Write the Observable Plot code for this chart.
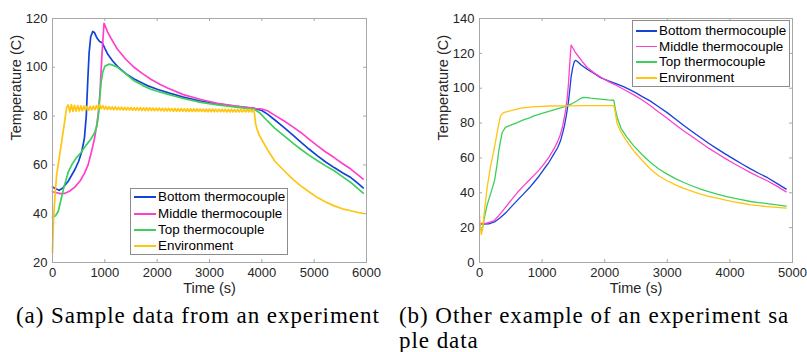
<!DOCTYPE html>
<html>
<head>
<meta charset="utf-8">
<script src="https://cdn.jsdelivr.net/npm/d3@7"></script>
<script src="https://cdn.jsdelivr.net/npm/@observablehq/plot@0.6"></script>
<style>
  html, body { margin: 0; padding: 0; background: #fff; }
  body { width: 807px; height: 352px; position: relative; overflow: hidden; }
  .panel { position: absolute; top: 0; }
  .legend { position: absolute; background: #fff; border: 1px solid #8c8c8c; box-sizing: border-box;
            font-family: "Liberation Sans", Arial, sans-serif; font-size: 13.4px; color: #000; }
  .legend .row { position: absolute; left: 0; height: 16px; line-height: 16px; white-space: nowrap; }
  .legend .sw { position: absolute; top: 7px; height: 2px; }
  .legend .lb { position: absolute; top: 0; }
  .cap { position: absolute; font-family: "Liberation Serif", "Times New Roman", serif; font-size: 23px;
         letter-spacing: 0.95px; line-height: 23px; white-space: nowrap; color: #000; }
</style>
</head>
<body>
<div id="pa" class="panel" style="left:0;"></div>
<div id="pb" class="panel" style="left:400px;"></div>
<div id="la" class="legend" style="left:130px; top:188px; width:158px; height:67px;"></div>
<div id="lb" class="legend" style="left:632px; top:20px; width:158px; height:67px;"></div>
<div class="cap" style="left:16px; top:304px;">(a) Sample data from an experiment</div>
<div class="cap" style="left:399px; top:304px;">(b) Other example of an experiment sa</div>
<div class="cap" style="left:399px; top:329px;">ple data</div>
<script>
// ---------- shared ----------
const seriesNames = ["Bottom thermocouple", "Middle thermocouple", "Top thermocouple", "Environment"];
const seriesColors = ["#1442d6", "#ff40cc", "#3ecf5a", "#ffc510"];
const axisLabelX = "Time (s)";
const axisLabelY = "Temperature (C)";

// ---------- panel (a) ----------
const aXTicks = [0, 1000, 2000, 3000, 4000, 5000, 6000];
const aYTicks = [20, 40, 60, 80, 100, 120];
const aBottom = [[0,51],[60,50.2],[130,49.6],[200,50.6],[300,53.3],[420,57.8],[500,61.5],[560,65.5],[610,71],[645,80],[675,95],[700,106],[730,112.5],[770,114.7],[800,114.3],[850,112],[900,110.6],[950,110.1],[1000,107.8],[1060,105.2],[1150,102.6],[1250,100.2],[1400,97.4],[1560,95.2],[1800,92.6],[2000,91],[2250,89.3],[2500,87.8],[2800,86.3],[3150,85],[3500,84],[3850,83.2],[4000,82.3],[4108,80.8],[4250,78.4],[4427,75.3],[4600,72.1],[4745,69.3],[4900,66.5],[5064,63.7],[5220,61.2],[5382,58.9],[5540,56.8],[5700,54.8],[5820,52.7],[5936,50.6]];
const aMiddle = [[0,49],[80,48.6],[150,48.2],[230,48.3],[330,49.3],[430,51],[530,53.5],[610,56.5],[680,60],[740,65],[800,70.5],[850,77],[880,82],[905,89],[925,97],[945,105],[965,112],[985,118],[1000,117.3],[1050,114.6],[1115,112],[1180,109.6],[1242,107.4],[1400,103.3],[1560,100],[1720,97.4],[1879,95.1],[2050,93.1],[2197,91.5],[2500,88.8],[2834,86.8],[3150,85.2],[3471,84.2],[3700,83.6],[3854,83.2],[4000,82.9],[4108,82.2],[4250,80.3],[4427,78],[4600,75.5],[4745,73.3],[4900,70.6],[5064,67.8],[5220,65.3],[5382,63],[5540,60.6],[5700,58.3],[5820,56.2],[5936,54.2]];
const aTop = [[0,38.6],[60,39.2],[110,41],[160,45.5],[220,51],[300,57],[380,60.5],[460,63],[541,65],[640,68],[732,70.5],[800,73],[850,76],[880,81],[905,88],[930,94],[960,98],[1000,100.4],[1083,101.3],[1150,100.9],[1242,100],[1400,97.3],[1560,94.5],[1720,92.6],[1879,91],[2050,89.9],[2197,89],[2500,87.2],[2834,85.6],[3150,84.6],[3471,83.8],[3700,83.2],[3854,82.8],[3950,81.5],[4108,78],[4250,75],[4427,71.9],[4600,68.8],[4745,66.4],[4900,64],[5064,61.7],[5220,59.6],[5382,57.6],[5540,55.2],[5700,52.8],[5820,50.6],[5936,48.4]];
const aEnv = [[0,24],[20,38],[50,48],[80,56],[150,66],[220,76],[270,83.5],
  [300,84.6],[330,81.6],[360,84.7],[390,81.9],[420,84.4],[450,82.0],[480,84.3],[510,82.1],[540,84.2],[570,82.2],
  [600,84.1],[630,82.3],[660,84.0],[690,82.4],[720,84.0],[750,82.5],[780,84.1],[810,82.6],[840,84.3],[870,82.9],
  [900,84.7],[930,83.0],[960,84.3],[990,82.8],[1020,84.0],[1050,82.7],[1080,83.9],[1110,82.7],[1140,83.8],[1170,82.6],
  [1200,83.8],[1230,82.6],[1260,83.7],[1290,82.6],[1320,83.7],[1350,82.5],[1380,83.6],[1410,82.5],[1440,83.6],[1470,82.5],
  [1500,83.6],[1530,82.4],[1560,83.5],[1590,82.4],[1620,83.5],[1650,82.4],[1680,83.5],[1710,82.3],[1740,83.4],[1770,82.3],
  [1800,83.4],[1830,82.3],[1860,83.4],[1890,82.3],[1920,83.3],[1950,82.2],[1980,83.3],[2010,82.2],[2040,83.3],[2070,82.2],
  [2100,83.2],[2130,82.1],[2160,83.2],[2190,82.1],[2220,83.2],[2250,82.1],[2280,83.1],[2310,82.0],[2340,83.1],[2370,82.0],
  [2400,83.1],[2430,82.0],[2460,83.1],[2490,82.0],[2520,83.0],[2550,81.9],[2580,83.0],[2610,81.9],[2640,83.0],[2670,81.9],
  [2700,83.0],[2730,81.9],[2760,83.0],[2790,81.9],[2820,82.9],[2850,81.9],[2880,82.9],[2910,81.8],[2940,82.9],[2970,81.8],
  [3000,82.9],[3030,81.8],[3060,82.9],[3090,81.8],[3120,82.8],[3150,81.8],[3180,82.8],[3210,81.8],[3240,82.8],[3270,81.8],
  [3300,82.8],[3330,81.7],[3360,82.8],[3390,81.7],[3420,82.8],[3450,81.7],[3480,82.7],[3510,81.7],[3540,82.7],[3570,81.7],
  [3600,82.7],[3630,81.7],[3660,82.7],[3690,81.7],[3720,82.7],[3750,81.7],[3780,82.7],[3810,81.7],[3840,82.6],
  [3860,81],[3880,77],[3910,74.5],[3950,72.2],[4000,70.3],[4108,66.2],[4250,61.5],[4427,57.6],[4600,54],[4745,51.4],
  [4900,49],[5064,46.6],[5220,44.8],[5382,43.2],[5540,42],[5700,41.2],[5820,40.6],[5936,40.1]];

// ---------- panel (b) ----------
const bXTicks = [0, 1000, 2000, 3000, 4000, 5000];
const bYTicks = [0, 20, 40, 60, 80, 100, 120, 140];
const bBottom = [[0,22.2],[60,22.1],[150,22.2],[250,23.5],[335,25.8],[420,28.5],[495,31.5],[600,35.5],[708,39.5],[800,43],[868,45.9],[950,49.5],[1028,53.5],[1110,57.5],[1187,62.2],[1250,66],[1294,69.8],[1330,74.5],[1360,79],[1390,85],[1420,92],[1445,100],[1465,107],[1490,112],[1515,115.3],[1534,116],[1560,115.5],[1620,113.5],[1720,110.9],[1830,108.4],[1933,106.1],[2060,104.2],[2199,102.3],[2300,100.9],[2400,99.2],[2500,97.3],[2600,95.2],[2732,92.6],[2860,89.4],[2998,86],[3130,82.3],[3264,78.6],[3400,75],[3530,71.7],[3660,68.4],[3797,65.2],[3930,62.2],[4063,59.3],[4200,56.4],[4329,53.7],[4460,51.2],[4595,48.8],[4750,45.4],[4899,42.1]];
const bMiddle = [[0,22.5],[100,22.4],[229,23.9],[310,27],[389,30.5],[500,35.5],[602,40],[700,43.8],[800,47.5],[868,50],[950,53],[1028,56.4],[1110,60.5],[1187,65],[1250,69.5],[1294,73.6],[1330,78.5],[1374,87],[1400,94],[1420,102],[1440,113],[1455,121],[1464,124.7],[1480,123.8],[1520,121.2],[1560,119.2],[1640,115.4],[1720,111.9],[1830,108.8],[1933,106.4],[2060,103.8],[2199,101.4],[2330,98.8],[2465,96.2],[2600,93.2],[2732,89.9],[2860,86.4],[2998,82.8],[3130,79.1],[3264,75.5],[3400,72.1],[3530,68.8],[3660,65.6],[3797,62.5],[3930,59.6],[4063,56.8],[4200,54.1],[4329,51.6],[4460,49.2],[4595,46.9],[4750,43.8],[4899,40.5]];
const bTop = [[0,22],[20,19],[43,18.5],[80,26],[122,33],[176,39.2],[240,47],[280,56],[308,64],[340,70.5],[363,74.6],[415,77.5],[500,78.8],[602,80.3],[700,81.8],[800,83],[868,84.1],[1000,85.5],[1134,87],[1270,88.4],[1400,89.9],[1480,91.2],[1560,92.8],[1620,94.2],[1660,94.8],[1720,94.6],[1773,94.3],[1850,94],[1933,93.7],[2050,93.3],[2146,93.1],[2170,88],[2200,83.2],[2260,77],[2360,71.7],[2465,66.9],[2600,61.8],[2732,57.4],[2860,53.8],[2998,50.7],[3130,48.1],[3264,45.9],[3400,43.9],[3530,42.1],[3660,40.6],[3797,39.2],[3930,38],[4063,36.9],[4200,35.9],[4329,35],[4460,34.4],[4595,33.8],[4750,33.1],[4899,32.4]];
const bEnv = [[0,27],[15,20],[28,16],[45,18],[80,30],[122,43],[176,55],[228,64],[300,78],[335,84],[363,85.3],[388,86],[442,86.6],[520,87.3],[600,88],[700,88.8],[761,89],[900,89.4],[1134,89.8],[1400,89.9],[1700,90],[1933,90],[2146,90],[2165,87],[2196,80],[2250,75.5],[2348,69.8],[2465,64],[2600,58.5],[2732,53.5],[2860,49.8],[2998,46.9],[3130,44.5],[3264,42.5],[3400,40.8],[3530,39.2],[3660,38],[3797,36.9],[3930,35.8],[4063,34.8],[4200,34],[4329,33.1],[4460,32.6],[4595,32.1],[4750,31.6],[4899,31.2]];

function rows(list) {
  const out = [];
  list.forEach((arr, i) => arr.forEach(([t, v]) => out.push({series: seriesNames[i], t, v})));
  return out;
}

function panel({width, height, mL, mR, mT, mB, xDomain, yDomain, xTicks, yTicks, data, sw}) {
  const iw = width - mL - mR, ih = height - mT - mB;
  const axisCol = "#a8a8a8";
  const tl = 3;
  return Plot.plot({
    width, height,
    marginLeft: mL, marginRight: mR, marginTop: mT, marginBottom: mB,
    style: {fontFamily: '"Liberation Sans", Arial, sans-serif', fontSize: "13px", color: "#262626", background: "transparent", overflow: "visible"},
    x: {domain: xDomain},
    y: {domain: yDomain},
    color: {domain: seriesNames, range: seriesColors},
    marks: [
      Plot.tickX(xTicks, {x: d => d, insetTop: ih - tl, stroke: axisCol}),
      Plot.tickX(xTicks, {x: d => d, insetBottom: ih - tl, stroke: axisCol}),
      Plot.tickY(yTicks, {y: d => d, insetRight: iw - tl, stroke: axisCol}),
      Plot.tickY(yTicks, {y: d => d, insetLeft: iw - tl, stroke: axisCol}),
      Plot.axisX(xTicks, {anchor: "bottom", tickSize: 0, tickPadding: 5, tickFormat: d3.format("d"), label: null}),
      Plot.axisY(yTicks, {anchor: "left", tickSize: 0, tickPadding: 5, tickFormat: d3.format("d"), label: null}),
      Plot.line(data, {x: "t", y: "v", z: "series", stroke: "series", strokeWidth: sw, curve: "linear"}),
      Plot.frame({stroke: axisCol}),
      Plot.text([axisLabelX], {text: d => d, frameAnchor: "bottom", dy: 30, fontSize: 14.5, fill: "#262626"}),
      Plot.text([axisLabelY], {text: d => d, frameAnchor: "left", dx: -36, rotate: -90, fontSize: 14.5, fill: "#262626"})
    ]
  });
}

document.getElementById("pa").append(panel({
  width: 400, height: 300, mL: 52, mR: 34, mT: 18, mB: 38,
  xDomain: [0, 6000], yDomain: [20, 120], xTicks: aXTicks, yTicks: aYTicks,
  data: rows([aBottom, aMiddle, aTop, aEnv]), sw: 1.7
}));
document.getElementById("pb").append(panel({
  width: 407, height: 300, mL: 79, mR: 15, mT: 18, mB: 38,
  xDomain: [0, 5000], yDomain: [0, 140], xTicks: bXTicks, yTicks: bYTicks,
  data: rows([bBottom, bMiddle, bTop, bEnv]), sw: 1.3
}));

function legend(id, rowTops, swW, lw) {
  const el = document.getElementById(id);
  seriesNames.forEach((name, i) => {
    const r = document.createElement("div");
    r.className = "row";
    r.style.top = rowTops[i] + "px";
    r.innerHTML = `<span class="sw" style="left:3px;width:${swW}px;height:${lw}px;background:${seriesColors[i]}"></span>` +
                  `<span class="lb" style="left:${swW + 5}px">${name}</span>`;
    el.append(r);
  });
}
legend("la", [0, 16.5, 32.5, 48.5], 22, 2);
legend("lb", [2, 17.5, 33, 49], 21, 1.5);
</script>
</body>
</html>
